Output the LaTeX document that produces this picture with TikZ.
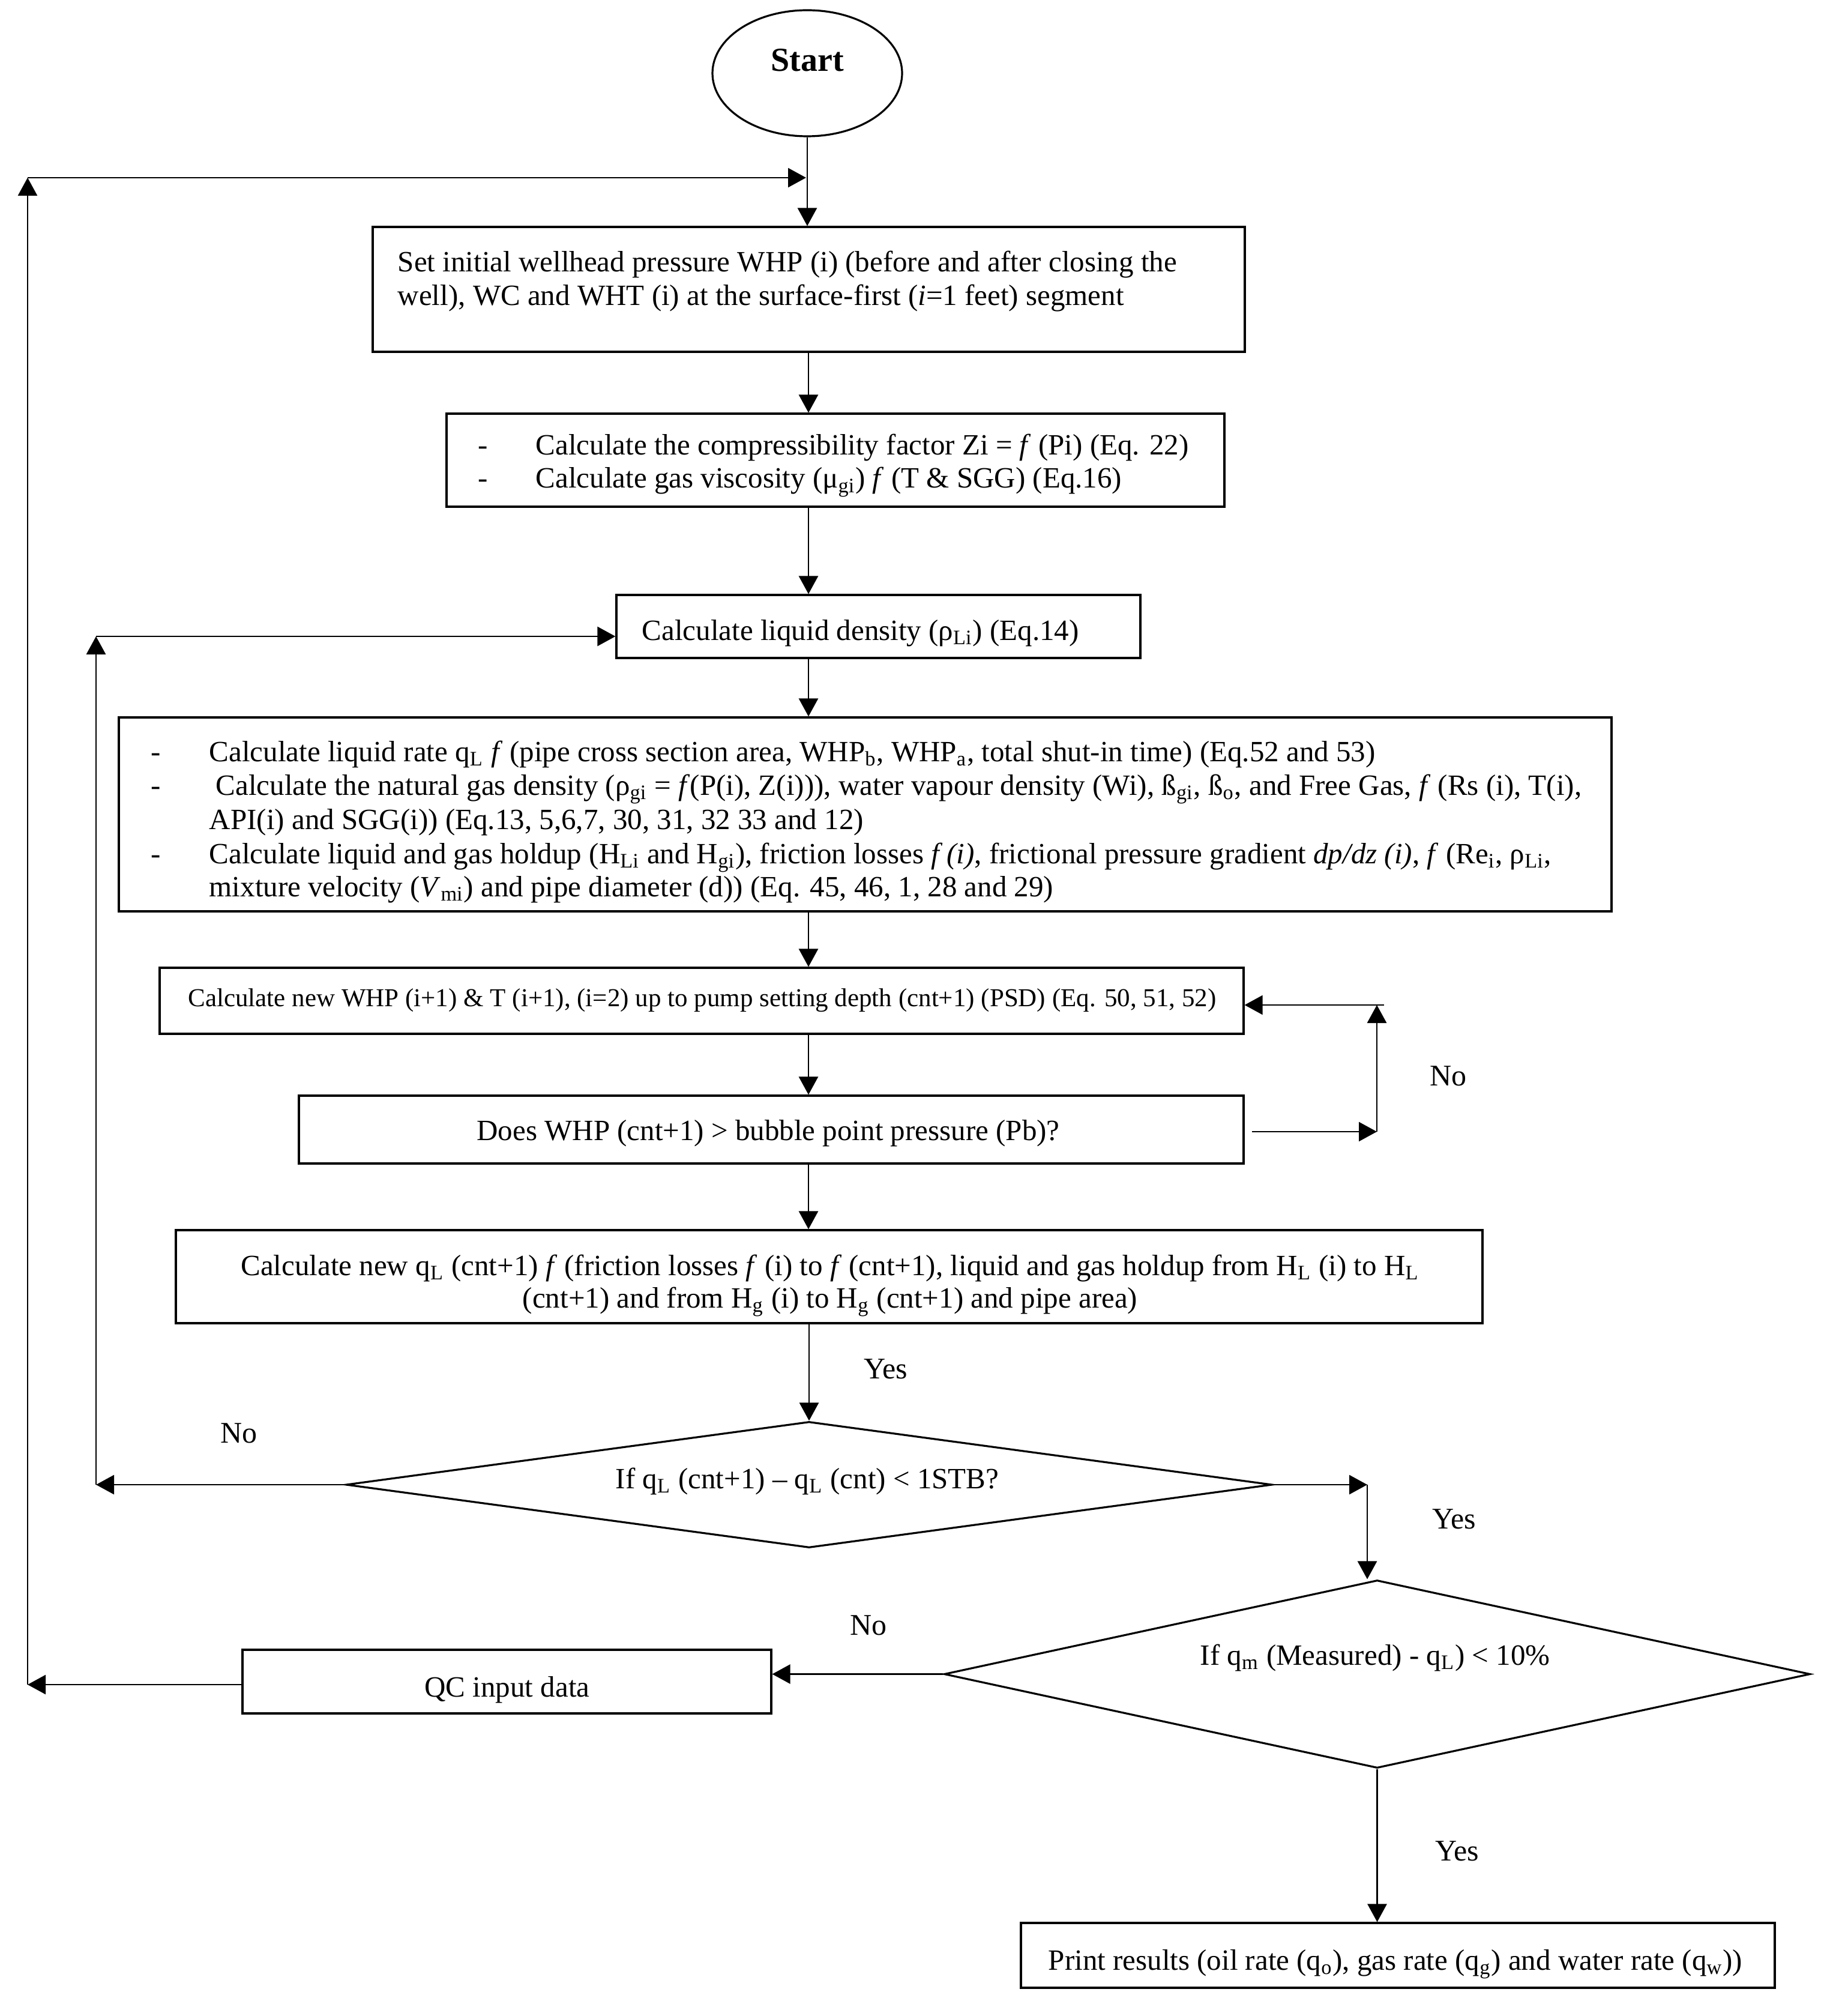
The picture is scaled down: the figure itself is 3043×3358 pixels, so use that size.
\documentclass[tikz,border=0pt]{standalone}
\usepackage{fontspec}
\setmainfont{Liberation Serif}
\usetikzlibrary{arrows.meta,shapes.geometric}
\begin{document}
\begin{tikzpicture}[x=0.25pt,y=-0.25pt,
  box/.style={draw, line width=0.8pt, rectangle, inner sep=0pt},
  dia/.style={draw, line width=0.8pt, diamond, inner sep=0pt},
  txt/.style={inner sep=0pt, font=\fontsize{12.25}{14}\selectfont},
  smalltxt/.style={inner sep=0pt, font=\fontsize{10.75}{13}\selectfont},
  lbl/.style={inner sep=0pt, font=\fontsize{12.5}{14}\selectfont},
  arr/.style={line width=0.7pt, -{Triangle[length=7.5pt,width=8pt]}}]
\fill[white] (0,0) rectangle (3043,3358);
\useasboundingbox (0,0) rectangle (3043,3358);

% ---- shapes ----
\node[draw, line width=0.8pt, ellipse, inner sep=0pt, minimum width=79pt, minimum height=52.5pt] (start) at (1345,122) {};
\node[inner sep=0pt, font=\fontsize{14}{16}\selectfont\bfseries] (starttxt) at (1345,100) {Start};

\node[box, minimum width=363.25pt, minimum height=52pt] (b1) at (1347.5,482) {};
\node[box, minimum width=324pt, minimum height=38.75pt] (b2) at (1392,766.5) {};
\node[box, minimum width=218.25pt, minimum height=26.25pt] (b3) at (1463.5,1043.5) {};
\node[box, minimum width=621.75pt, minimum height=80.75pt] (b4) at (1441.5,1356.5) {};
\node[box, minimum width=451.5pt, minimum height=27.5pt] (b5) at (1169,1667) {};
\node[box, minimum width=393.5pt, minimum height=28.25pt] (b6) at (1285,1881.5) {};
\node[box, minimum width=544.25pt, minimum height=38.75pt] (b7) at (1381.5,2126.5) {};
\node[dia, minimum width=385.75pt, minimum height=52.5pt] (d1) at (1348,2473) {};
\node[dia, minimum width=360.75pt, minimum height=78.25pt] (d2) at (2294.5,2788.5) {};
\node[box, minimum width=220.25pt, minimum height=26.5pt] (qc) at (844.5,2801) {};
\node[box, minimum width=314pt, minimum height=27pt] (pr) at (2329,3257) {};

% ---- texts ----
\node[txt, anchor=base west] (t1a) at (662,453) {Set initial wellhead pressure WHP (i) (before and after closing the};
\node[txt, anchor=base west] (t1b) at (662,509) {well), WC and WHT (i) at the surface-first (\textit{i}=1 feet) segment};

\node[txt, anchor=base west] (t2d1) at (796,758) {-};
\node[txt, anchor=base west] (t2d2) at (796,813) {-};
\node[txt, anchor=base west] (t2a) at (892,758) {Calculate the compressibility factor Zi = \textit{f} (Pi) (Eq. 22)};
\node[txt, anchor=base west] (t2b) at (892,813) {Calculate gas viscosity (μ\textsubscript{gi}) \textit{f} (T \& SGG) (Eq.16)};

\node[txt, anchor=base west] (t3) at (1069,1066) {Calculate liquid density (ρ\textsubscript{Li}) (Eq.14)};

\node[txt, anchor=base west] (t4d1) at (251,1268) {-};
\node[txt, anchor=base west] (t4d2) at (251,1324) {-};
\node[txt, anchor=base west] (t4d3) at (251,1438) {-};
\node[txt, anchor=base west] (t4a) at (348,1268) {Calculate liquid rate q\textsubscript{L} \textit{f} (pipe cross section area, WHP\textsubscript{b}, WHP\textsubscript{a}, total shut-in time) (Eq.52 and 53)};
\node[txt, anchor=base west] (t4b) at (359,1324) {Calculate the natural gas density (ρ\textsubscript{gi} = \textit{f}(P(i), Z(i))), water vapour density (Wi), ß\textsubscript{gi}, ß\textsubscript{o}, and Free Gas, \textit{f} (Rs (i), T(i),};
\node[txt, anchor=base west] (t4c) at (348,1381) {API(i) and SGG(i)) (Eq.13, 5,6,7, 30, 31, 32 33 and 12)};
\node[txt, anchor=base west] (t4e) at (348,1438) {Calculate liquid and gas holdup (H\textsubscript{Li} and H\textsubscript{gi}), friction losses \textit{f (i)}, frictional pressure gradient \textit{dp/dz (i)}, \textit{f} (Re\textsubscript{i}, ρ\textsubscript{Li},};
\node[txt, anchor=base west] (t4f) at (348,1493) {mixture velocity (\textit{V}\textsubscript{mi}) and pipe diameter (d)) (Eq. 45, 46, 1, 28 and 29)};

\node[smalltxt, anchor=base] (t5) at (1170,1676) {Calculate new WHP (i+1) \& T (i+1), (i=2) up to pump setting depth (cnt+1) (PSD) (Eq. 50, 51, 52)};
\node[txt, anchor=base] (t6) at (1280,1899) {Does WHP (cnt+1) > bubble point pressure (Pb)?};
\node[txt, anchor=base] (t7a) at (1383,2124) {Calculate new q\textsubscript{L} (cnt+1) \textit{f} (friction losses \textit{f} (i) to \textit{f} (cnt+1), liquid and gas holdup from H\textsubscript{L} (i) to H\textsubscript{L}};
\node[txt, anchor=base] (t7b) at (1383,2178) {(cnt+1) and from H\textsubscript{g} (i) to H\textsubscript{g} (cnt+1) and pipe area)};
\node[txt, anchor=base] (td1) at (1345,2479) {If q\textsubscript{L} (cnt+1) – q\textsubscript{L} (cnt) < 1STB?};
\node[txt, anchor=base] (td2) at (2291,2773) {If q\textsubscript{m} (Measured) - q\textsubscript{L}) < 10\%};
\node[txt, anchor=base] (tqc) at (845,2826) {QC input data};
\node[txt, anchor=base] (tpr) at (2325,3281) {Print results (oil rate (q\textsubscript{o}), gas rate (q\textsubscript{g}) and water rate (q\textsubscript{w}))};

% ---- labels ----
\node[lbl] (y1) at (1476,2280) {Yes};
\node[lbl] (n1) at (398,2387) {No};
\node[lbl] (y2) at (2423,2530) {Yes};
\node[lbl] (n2) at (1447,2707) {No};
\node[lbl] (y3) at (2428,3083) {Yes};
\node[lbl] (n3) at (2413,1792) {No};

% ---- coordinates ----
\coordinate (ax) at (1347,0);
\coordinate (o1) at (46,2806);
\coordinate (o2) at (46,296);
\coordinate (o3) at (1343,296);
\coordinate (i1) at (160,2473);
\coordinate (i2) at (160,1060);
\coordinate (r6) at (2294,1885);
\coordinate (r5) at (2294,1674);
\coordinate (yr) at (2278,2473);

% ---- connectors ----
\draw[arr] (start.south) -- (start.south |- b1.north);
\draw[arr] (b1.south -| ax) -- (b2.north -| ax);
\draw[arr] (b2.south -| ax) -- (b3.north -| ax);
\draw[arr] (b3.south -| ax) -- (b4.north -| ax);
\draw[arr] (b4.south -| ax) -- (b5.north -| ax);
\draw[arr] (b5.south -| ax) -- (b6.north -| ax);
\draw[arr] (b6.south -| ax) -- (b7.north -| ax);
\draw[arr] (b7.south -| d1.north) -- (d1.north);

\draw[arr] ([xshift=3pt]b6.east |- r6) -- (r6);
\draw[arr] (r6) -- (r5);
\draw[arr] ([xshift=3pt]r5) -- (r5 -| b5.east);

\draw[arr] (d1.west) -- (i1);
\draw[arr] (i1) -- (i2);
\draw[arr] (i2) -- (i2 -| b3.west);

\draw[arr] (d1.east) -- (yr);
\draw[arr] (yr) -- (yr |- d2.north);

\draw[arr] (d2.west) -- (d2.west -| qc.east);
\draw[arr] (qc.west |- o1) -- (o1);
\draw[arr] (o1) -- (o2);
\draw[arr] (o2) -- (o3);

\draw[arr] (d2.south) -- (d2.south |- pr.north);
\end{tikzpicture}
\end{document}
